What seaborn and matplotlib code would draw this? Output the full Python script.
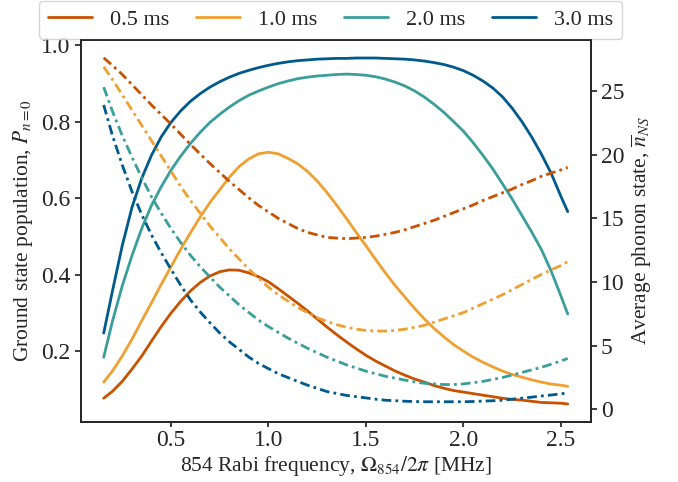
import matplotlib
matplotlib.use("Agg")
import matplotlib.pyplot as plt
import seaborn as sns

# ---- data ----
rabi = [0.155, 0.2, 0.25, 0.3, 0.35, 0.4, 0.45,
        0.5, 0.55, 0.6, 0.65, 0.7, 0.75, 0.8,
        0.85, 0.9, 0.95, 1.0, 1.05, 1.1, 1.15,
        1.2, 1.25, 1.3, 1.35, 1.4, 1.45, 1.5,
        1.55, 1.6, 1.65, 1.7, 1.75, 1.8, 1.85,
        1.9, 1.95, 2.0, 2.05, 2.1, 2.15, 2.2,
        2.25, 2.3, 2.35, 2.4, 2.45, 2.5, 2.535]

labels = ["0.5 ms", "1.0 ms", "2.0 ms", "3.0 ms"]

pop_05 = [0.078, 0.096, 0.122, 0.154, 0.188, 0.227, 0.265,
          0.300, 0.331, 0.358, 0.380, 0.397, 0.408, 0.413,
          0.412, 0.405, 0.395, 0.382, 0.364, 0.345, 0.326,
          0.306, 0.285, 0.264, 0.244, 0.225, 0.207, 0.190,
          0.175, 0.162, 0.149, 0.138, 0.128, 0.120, 0.111,
          0.104, 0.098, 0.094, 0.090, 0.086, 0.082, 0.078,
          0.075, 0.073, 0.070, 0.067, 0.066, 0.065, 0.063]
pop_10 = [0.120, 0.149, 0.188, 0.232, 0.280, 0.327, 0.375,
          0.421, 0.467, 0.510, 0.551, 0.589, 0.622, 0.655,
          0.683, 0.703, 0.716, 0.720, 0.716, 0.704, 0.690,
          0.670, 0.645, 0.615, 0.582, 0.547, 0.511, 0.476,
          0.440, 0.405, 0.372, 0.342, 0.312, 0.285, 0.260,
          0.238, 0.218, 0.201, 0.185, 0.172, 0.160, 0.149,
          0.140, 0.133, 0.126, 0.120, 0.115, 0.112, 0.109]
pop_20 = [0.185, 0.279, 0.371, 0.450, 0.521, 0.581, 0.630,
          0.673, 0.710, 0.743, 0.772, 0.798, 0.819, 0.838,
          0.855, 0.869, 0.880, 0.890, 0.899, 0.906, 0.912,
          0.916, 0.919, 0.921, 0.923, 0.924, 0.923, 0.921,
          0.917, 0.911, 0.903, 0.893, 0.880, 0.864, 0.845,
          0.824, 0.800, 0.775, 0.745, 0.712, 0.677, 0.638,
          0.598, 0.555, 0.512, 0.466, 0.410, 0.345, 0.298]
pop_30 = [0.248, 0.358, 0.476, 0.576, 0.652, 0.712, 0.760,
          0.798, 0.828, 0.853, 0.873, 0.890, 0.904, 0.916,
          0.926, 0.934, 0.941, 0.947, 0.952, 0.956, 0.959,
          0.961, 0.963, 0.964, 0.965, 0.965, 0.966, 0.966,
          0.966, 0.965, 0.964, 0.963, 0.961, 0.958, 0.954,
          0.949, 0.942, 0.933, 0.921, 0.906, 0.888, 0.865,
          0.835, 0.800, 0.760, 0.715, 0.665, 0.605, 0.565]

nbar_05 = [27.6, 27.0, 26.3, 25.5, 24.7, 23.9, 23.15,
           22.4, 21.6, 20.8, 20.05, 19.3, 18.6, 17.9,
           17.25, 16.6, 16.0, 15.5, 15.0, 14.6, 14.2,
           13.9, 13.7, 13.5, 13.45, 13.4, 13.45, 13.5,
           13.6, 13.75, 13.9, 14.1, 14.35, 14.6, 14.85,
           15.15, 15.45, 15.75, 16.05, 16.4, 16.7, 17.0,
           17.3, 17.65, 17.95, 18.3, 18.55, 18.8, 19.0]
nbar_10 = [26.9, 25.9, 24.7, 23.5, 22.3, 21.1, 19.9,
           18.7, 17.5, 16.4, 15.4, 14.4, 13.5, 12.6,
           11.8, 11.0, 10.3, 9.6, 9.0, 8.5, 8.0,
           7.6, 7.2, 6.9, 6.65, 6.45, 6.3, 6.2,
           6.15, 6.15, 6.2, 6.3, 6.45, 6.6, 6.85,
           7.1, 7.35, 7.6, 7.95, 8.3, 8.65, 9.0,
           9.4, 9.8, 10.2, 10.6, 10.95, 11.3, 11.6]
nbar_20 = [25.3, 23.4, 21.5, 19.8, 18.2, 16.7, 15.4,
           14.2, 13.1, 12.1, 11.2, 10.4, 9.6, 8.9,
           8.2, 7.6, 7.0, 6.5, 6.05, 5.6, 5.2,
           4.8, 4.45, 4.1, 3.8, 3.5, 3.25, 3.0,
           2.8, 2.6, 2.45, 2.3, 2.15, 2.05, 2.0,
           1.95, 1.95, 2.0, 2.1, 2.2, 2.35, 2.5,
           2.7, 2.9, 3.1, 3.3, 3.55, 3.8, 4.0]
nbar_30 = [23.9, 21.5, 19.2, 17.1, 15.3, 13.7, 12.3,
           11.0, 9.75, 8.6, 7.65, 6.8, 6.0, 5.3,
           4.7, 4.1, 3.6, 3.2, 2.8, 2.5, 2.2,
           1.9, 1.65, 1.4, 1.25, 1.1, 1.0, 0.9,
           0.8, 0.72, 0.68, 0.64, 0.62, 0.6, 0.6,
           0.6, 0.6, 0.6, 0.62, 0.65, 0.68, 0.72,
           0.8, 0.88, 0.96, 1.05, 1.13, 1.22, 1.3]

colors = ["#c85200", "#f0a030", "#3a9e9a", "#005a8c"]

# ---- style ----
sns.set_theme(style="ticks")
plt.rcParams["font.family"] = ["Liberation Serif", "DejaVu Serif"]
plt.rcParams["mathtext.fontset"] = "stix"
plt.rcParams["xtick.labelsize"] = 17
plt.rcParams["ytick.labelsize"] = 17
plt.rcParams["axes.labelsize"] = 15.5
plt.rcParams["xtick.major.size"] = 3.5
plt.rcParams["ytick.major.size"] = 4
plt.rcParams["xtick.major.pad"] = 2.5
plt.rcParams["ytick.major.pad"] = 3.5

fig = plt.figure(figsize=(6.78, 4.82), dpi=100)
ax = fig.add_axes([0.119, 0.125, 0.752, 0.792])
ax2 = ax.twinx()
ax2.set_position([0.119, 0.125, 0.752, 0.792])

pops = [pop_05, pop_10, pop_20, pop_30]
nbars = [nbar_05, nbar_10, nbar_20, nbar_30]

for p, c, lab in zip(pops, colors, labels):
    sns.lineplot(x=rabi, y=p, ax=ax, color=c, lw=2, label=lab, legend=False)
for n, c in zip(nbars, colors):
    sns.lineplot(x=rabi, y=n, ax=ax2, color=c, lw=2,
                 linestyle=(0, (3.5, 1.5, 1, 1.5)), legend=False)

ax.set_xlim(0.037, 2.652)
ax.set_ylim(0.0166, 1.013)
ax2.set_ylim(-0.97, 29.0)

ax.set_xticks([0.5, 1.0, 1.5, 2.0, 2.5])
ax.set_yticks([0.2, 0.4, 0.6, 0.8, 1.0])
ax2.set_yticks([0, 5, 10, 15, 20, 25])

ax.set_xlabel(r"854 Rabi frequency, $\Omega_{854}/2\pi$ [MHz]", labelpad=2)
ax.set_ylabel(r"Ground state population, $P_{n=0}$")
ax2.set_ylabel(r"Average phonon state, $\overline{n}_{NS}$")

handles, labs = ax.get_legend_handles_labels()
ax.legend(handles, labs, loc="lower center", bbox_to_anchor=(0.49, 1.0), ncol=4,
          fontsize=16, handlelength=2.0, handletextpad=0.8, columnspacing=1.2,
          frameon=True, borderaxespad=0.05)

fig.savefig("out.png", dpi=100)
